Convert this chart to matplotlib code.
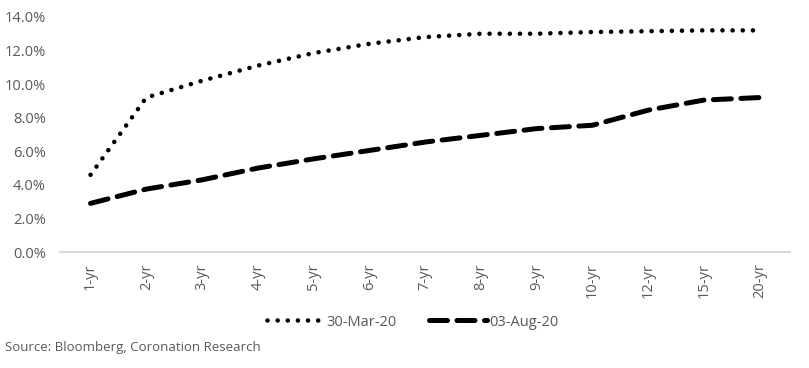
import numpy as np
import matplotlib
matplotlib.use("Agg")
import matplotlib.pyplot as plt
from matplotlib.ticker import FuncFormatter

plt.rcParams['font.family'] = ['Open Sans', 'DejaVu Sans']

tenors = ['1-yr', '2-yr', '3-yr', '4-yr', '5-yr', '6-yr', '7-yr', '8-yr',
          '9-yr', '10-yr', '12-yr', '15-yr', '20-yr']
mar30 = [4.6, 9.2, 10.2, 11.1, 11.85, 12.4, 12.8, 13.0, 13.0, 13.1, 13.15, 13.2, 13.2]
aug03 = [2.9, 3.75, 4.3, 5.0, 5.55, 6.05, 6.55, 6.95, 7.35, 7.55, 8.45, 9.05, 9.2]

grey = '#595959'

fig = plt.figure(figsize=(8.09, 3.68), dpi=100)
ax = fig.add_axes([0.074, 0.315, 0.903, 0.639])

x = np.arange(len(tenors))
ax.plot(x, mar30, color='black', lw=3.3, linestyle=(0, (0.01, 2.2)),
        dash_capstyle='round', label='30-Mar-20')
ax.plot(x, aug03, color='black', lw=3.6, linestyle=(0, (3.6, 1.9)),
        dash_capstyle='round', label='03-Aug-20')

ax.set_xlim(-0.55, len(tenors) - 0.45)
ax.set_ylim(0, 14)
ax.set_yticks(np.arange(0, 15, 2))
ax.yaxis.set_major_formatter(FuncFormatter(lambda v, p: f'{v:.1f}%'))
ax.set_xticks(x)
ax.set_xticklabels(tenors, rotation=90)
ax.tick_params(axis='both', length=0, colors=grey, labelsize=10.5)
ax.tick_params(axis='x', pad=8)
ax.tick_params(axis='y', pad=10)

for s in ['top', 'right', 'left']:
    ax.spines[s].set_visible(False)
ax.spines['bottom'].set_color('#d9d9d9')
ax.spines['bottom'].set_linewidth(1.5)

fig.legend(loc='center', bbox_to_anchor=(0.51, 0.125), ncol=2, frameon=False,
           fontsize=10.5, handlelength=4, handletextpad=0.1, columnspacing=2.2,
           labelcolor=grey)

fig.text(0.006, 0.045, 'Source: Bloomberg, Coronation Research', fontsize=9.5,
         color=grey)

fig.savefig('out.png', dpi=100)
